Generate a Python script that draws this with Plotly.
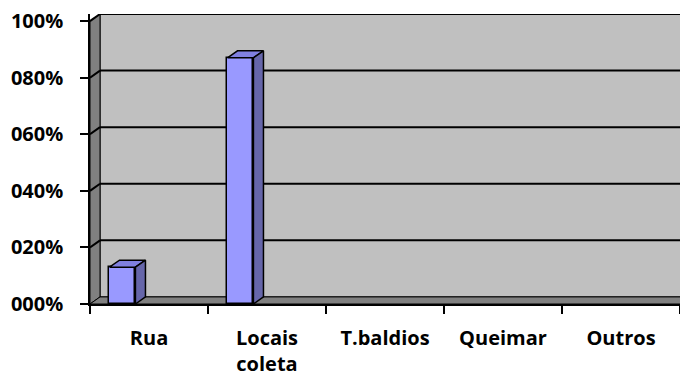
import plotly.graph_objects as go

categories = ["Rua", "Locais<br>coleta", "T.baldios", "Queimar", "Outros"]
values = [0.13, 0.87, 0.0, 0.0, 0.0]
y_tickvals = [0, 0.2, 0.4, 0.6, 0.8, 1.0]
y_ticktext = ["000%", "020%", "040%", "060%", "080%", "100%"]

# 3D look parameters (in data units)
DX = 0.085   # depth offset horizontally
DY = 0.025   # depth offset vertically
BAR_W = 0.22
BAR_SHIFT = -0.225
XMIN, XMAX = -0.5, 4.5

FRONT = "#9999ff"
TOP = "#8080e0"
SIDE = "#6666aa"
WALL = "#c0c0c0"
DARK = "#808080"

fig = go.Figure()

shapes = []
shapes.append(dict(type="rect", xref="x", yref="y", x0=XMIN + DX, x1=XMAX + 0.2, y0=DY, y1=1 + DY,
                   fillcolor=WALL, line=dict(color="black", width=1), layer="below"))
shapes.append(dict(type="path", xref="x", yref="y",
                   path=f"M {XMIN},0 L {XMIN+DX},{DY} L {XMIN+DX},{1+DY} L {XMIN},1 Z",
                   fillcolor=DARK, line=dict(color="black", width=1), layer="below"))
shapes.append(dict(type="path", xref="x", yref="y",
                   path=f"M {XMIN},0 L {XMAX+0.2},0 L {XMAX+0.2},{DY} L {XMIN+DX},{DY} Z",
                   fillcolor=DARK, line=dict(color="black", width=1), layer="below"))
for v in y_tickvals[1:]:
    shapes.append(dict(type="line", xref="x", yref="y", x0=XMIN + DX, x1=XMAX + 0.2, y0=v + DY, y1=v + DY,
                       line=dict(color="black", width=2), layer="below"))
    shapes.append(dict(type="line", xref="x", yref="y", x0=XMIN, x1=XMIN + DX, y0=v, y1=v + DY,
                       line=dict(color="black", width=2), layer="below"))

xs = [i + BAR_SHIFT for i in range(len(values))]
fig.add_trace(go.Bar(x=xs, y=values, width=BAR_W,
                     marker=dict(color=FRONT, line=dict(color="black", width=[1.5 if v > 0 else 0 for v in values])),
                     hoverinfo="skip", showlegend=False))

for x, v in zip(xs, values):
    if v <= 0:
        continue
    l, r = x - BAR_W / 2, x + BAR_W / 2
    fig.add_trace(go.Scatter(x=[l, r, r + DX, l + DX, l], y=[v, v, v + DY, v + DY, v], fill="toself",
                             fillcolor=TOP, mode="lines", line=dict(color="black", width=1.5),
                             hoverinfo="skip", showlegend=False))
    fig.add_trace(go.Scatter(x=[r, r + DX, r + DX, r, r], y=[0, DY, v + DY, v, 0], fill="toself",
                             fillcolor=SIDE, mode="lines", line=dict(color="black", width=1.5),
                             hoverinfo="skip", showlegend=False))

font = dict(family="'Open Sans', sans-serif", size=20, color="black")
fig.update_layout(
    width=680, height=376,
    margin=dict(l=90, r=0, t=14, b=72),
    paper_bgcolor="white", plot_bgcolor="white",
    shapes=shapes,
    font=font,
    bargap=0,
    xaxis=dict(range=[XMIN, XMAX], tickvals=list(range(len(categories))), ticktext=[f"<b>{c}</b>" for c in categories],
               tickfont=font,
               ticks="", showgrid=False, zeroline=False, showline=True, linecolor="black", linewidth=1.5,
               ticklabelstandoff=15,
               minor=dict(ticks="outside", tick0=-0.5, dtick=1, ticklen=8, tickcolor="black", tickwidth=1.5, showgrid=False),
               fixedrange=True),
    yaxis=dict(range=[0, 1 + DY], tickvals=y_tickvals, ticktext=[f"<b>{t}</b>" for t in y_ticktext],
               tickfont=font,
               ticks="outside", ticklen=8, tickcolor="black", tickwidth=1.5, showgrid=False, zeroline=False,
               showline=True, linecolor="black", linewidth=1.5, ticklabelstandoff=13, fixedrange=True),
)

fig.write_html("out.html")
